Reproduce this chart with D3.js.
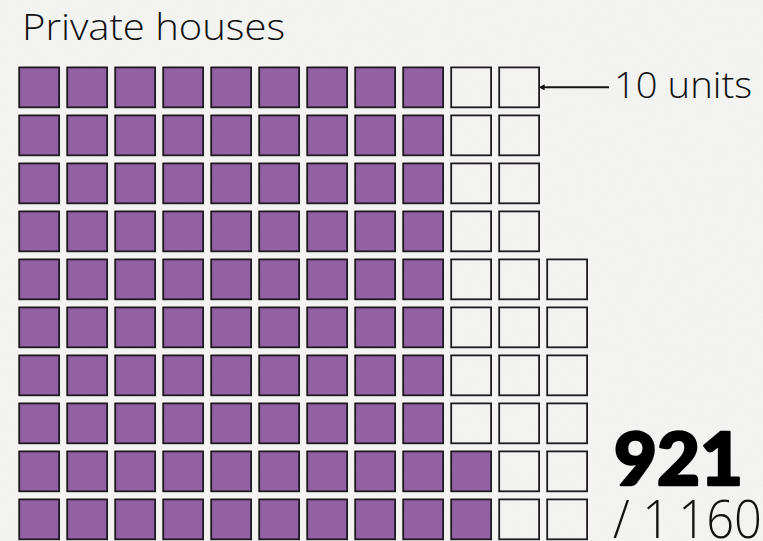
<!DOCTYPE html>
<html>
<head>
<meta charset="utf-8">
<script src="https://cdn.jsdelivr.net/npm/d3@7"></script>
<style>
  html, body { margin: 0; padding: 0; background: #f3f3f2; }
  svg { display: block; }
  .light { font-family: "Open Sans", "Lato", sans-serif; font-weight: 300; fill: #111; }
  .heavy { font-family: "Lato", "Open Sans", sans-serif; font-weight: 900; fill: #000; stroke: #000; stroke-width: 2.5; stroke-linejoin: round; }
</style>
</head>
<body>
<svg id="chart"></svg>
<script>
// Chart values
const title = "Private houses";
const unitLabel = "10 units";
const unitSize = 10;
const totalUnits = 1160;
const filledUnits = 921;
const rowsPerColumn = 10;

const width = 763;
const height = 541;

const svg = d3.select("#chart").attr("width", width).attr("height", height);

// Paper-like speckled background
const defs = svg.append("defs");
const noise = defs.append("filter").attr("id", "noise");
noise.append("feTurbulence")
  .attr("type", "fractalNoise")
  .attr("baseFrequency", 0.9)
  .attr("numOctaves", 2)
  .attr("seed", 3);
noise.append("feColorMatrix")
  .attr("values", "0 0 0 0 0.6  0 0 0 0 0.6  0 0 0 0 0.6  0 0 0 0.12 0");
svg.append("rect").attr("width", width).attr("height", height).attr("fill", "#f5f5f4");
svg.append("rect").attr("width", width).attr("height", height).attr("filter", "url(#noise)");

// One square for each unitSize units, filled column by column from bottom-left
const cellCount = Math.round(totalUnits / unitSize);
const filledCount = Math.round(filledUnits / unitSize);
const columns = Math.ceil(cellCount / rowsPerColumn);

const cells = d3.range(cellCount).map((i) => ({
  col: Math.floor(i / rowsPerColumn),
  row: rowsPerColumn - 1 - (i % rowsPerColumn),
  filled: i < filledCount,
}));

const x = d3.scaleBand()
  .domain(d3.range(columns))
  .range([18.3, 588])
  .paddingInner(0.131);

const y = d3.scaleBand()
  .domain(d3.range(rowsPerColumn))
  .range([66.5, 540.2])
  .paddingInner(0.131);

const sw = 1.8;

svg.append("g")
  .selectAll("rect")
  .data(cells)
  .join("rect")
  .attr("x", (d) => x(d.col) + sw / 2)
  .attr("y", (d) => y(d.row) + sw / 2)
  .attr("width", x.bandwidth() - sw)
  .attr("height", y.bandwidth() - sw)
  .attr("fill", (d) => (d.filled ? "#9461a4" : "none"))
  .attr("stroke", "#1e1a20")
  .attr("stroke-width", sw);

// Title
svg.append("text")
  .attr("class", "light")
  .attr("x", 22)
  .attr("y", 39.5)
  .attr("font-size", 36)
  .attr("textLength", 263)
  .attr("lengthAdjust", "spacingAndGlyphs")
  .text(title);

// Key: arrow pointing at the first row
const keyY = y(0) + y.bandwidth() / 2;
const lastCol = x(Math.floor((rowsPerColumn * (columns - 1) - 1) / rowsPerColumn));
const arrowStart = lastCol + x.bandwidth() + 4;

defs.append("marker")
  .attr("id", "arrowhead")
  .attr("viewBox", "0 0 10 10")
  .attr("refX", 1)
  .attr("refY", 5)
  .attr("markerWidth", 3)
  .attr("markerHeight", 3)
  .attr("orient", "auto-start-reverse")
  .append("path")
  .attr("d", "M0,0 L10,5 L0,10 z")
  .attr("fill", "#111");

svg.append("line")
  .attr("x1", arrowStart)
  .attr("x2", 609)
  .attr("y1", keyY)
  .attr("y2", keyY)
  .attr("stroke", "#111")
  .attr("stroke-width", 2)
  .attr("marker-start", "url(#arrowhead)");

svg.append("text")
  .attr("class", "light")
  .attr("x", 614)
  .attr("y", 98)
  .attr("font-size", 37)
  .attr("textLength", 138)
  .attr("lengthAdjust", "spacingAndGlyphs")
  .text(unitLabel);

// Big number
svg.append("text")
  .attr("class", "heavy")
  .attr("x", 614)
  .attr("y", 485)
  .attr("font-size", 72)
  .attr("textLength", 129)
  .attr("lengthAdjust", "spacingAndGlyphs")
  .text(d3.format(",")(filledUnits).replace(/,/g, "\u2009"));

svg.append("text")
  .attr("class", "light")
  .attr("x", 613)
  .attr("y", 538)
  .attr("font-size", 53)
  .attr("textLength", 149)
  .attr("lengthAdjust", "spacingAndGlyphs")
  .text("/ " + d3.format(",")(totalUnits).replace(/,/g, "\u2009"));
</script>
</body>
</html>
